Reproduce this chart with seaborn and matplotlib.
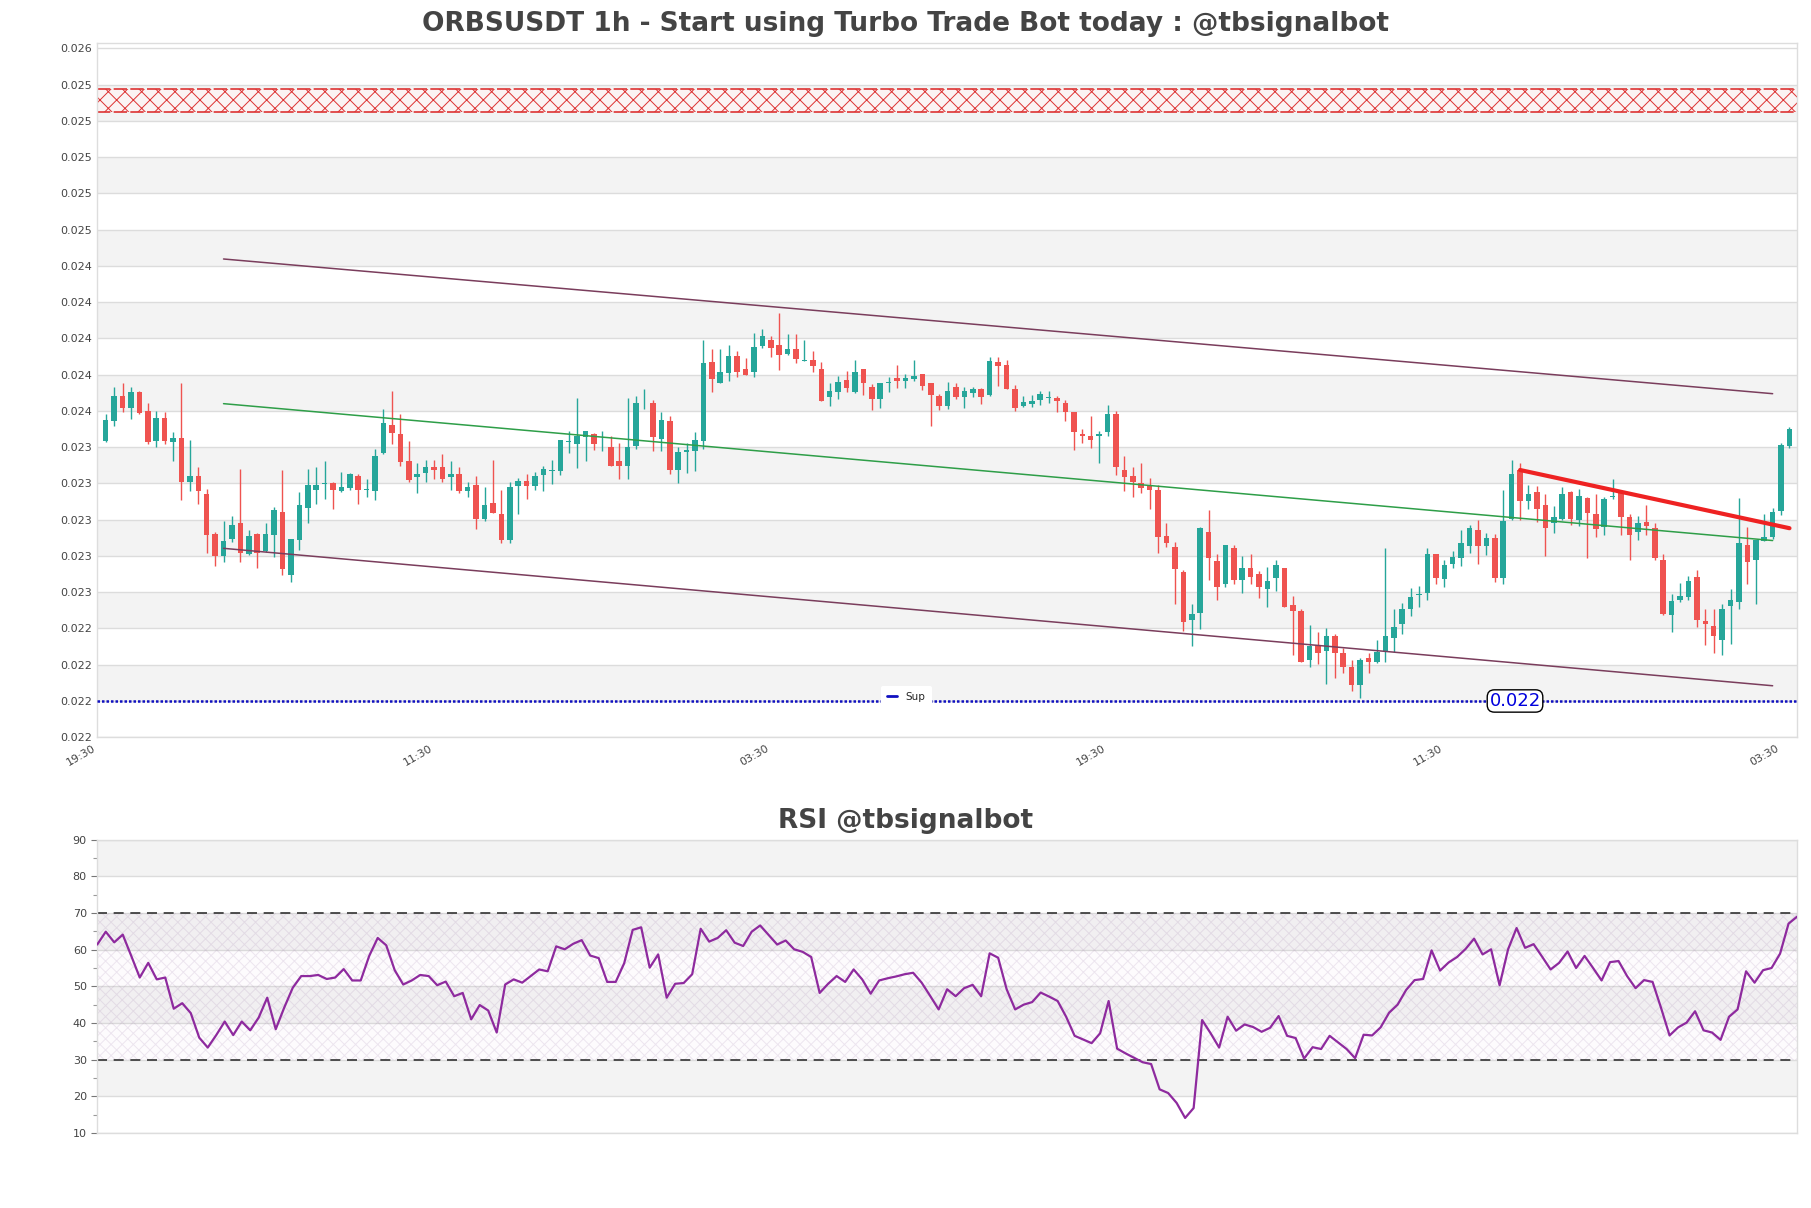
import numpy as np
import matplotlib
matplotlib.use("Agg")
import matplotlib.pyplot as plt
import seaborn as sns
from matplotlib.ticker import FormatStrFormatter, FixedLocator, MultipleLocator
from matplotlib.lines import Line2D

# ---------------- data ----------------
opens = [0.023434, 0.023546, 0.023682, 0.023618, 0.023704, 0.023599, 0.023434, 0.023563, 0.023428, 0.023450,
         0.023210, 0.023241, 0.023142, 0.022921, 0.022797, 0.022896, 0.022982, 0.022809, 0.022921, 0.022830,
         0.022918, 0.023043, 0.022697, 0.022890, 0.023067, 0.023166, 0.023199, 0.023202, 0.023160, 0.023177,
         0.023241, 0.023162, 0.023160, 0.023370, 0.023522, 0.023473, 0.023324, 0.023237, 0.023259, 0.023291,
         0.023291, 0.023237, 0.023254, 0.023160, 0.023191, 0.023004, 0.023094, 0.023033, 0.022890, 0.023188,
         0.023214, 0.023188, 0.023248, 0.023270, 0.023270, 0.023430, 0.023417, 0.023458, 0.023471, 0.023410,
         0.023403, 0.023324, 0.023298, 0.023408, 0.023653, 0.023645, 0.023447, 0.023544, 0.023274, 0.023371,
         0.023381, 0.023434, 0.023871, 0.023755, 0.023811, 0.023902, 0.023831, 0.023816, 0.023957, 0.023991,
         0.023963, 0.023915, 0.023941, 0.023875, 0.023880, 0.023831, 0.023678, 0.023706, 0.023770, 0.023704,
         0.023831, 0.023733, 0.023667, 0.023755, 0.023781, 0.023766, 0.023776, 0.023803, 0.023754, 0.023684,
         0.023629, 0.023732, 0.023678, 0.023700, 0.023721, 0.023690, 0.023870, 0.023852, 0.023721, 0.023629,
         0.023640, 0.023659, 0.023672, 0.023672, 0.023644, 0.023594, 0.023474, 0.023463, 0.023459, 0.023482,
         0.023583, 0.023275, 0.023242, 0.023201, 0.023186, 0.023164, 0.022911, 0.022847, 0.022710, 0.022446,
         0.022485, 0.022930, 0.022771, 0.022646, 0.022845, 0.022666, 0.022732, 0.022699, 0.022616, 0.022681,
         0.022731, 0.022529, 0.022497, 0.022228, 0.022302, 0.022276, 0.022361, 0.022267, 0.022188, 0.022087,
         0.022239, 0.022216, 0.022271, 0.022350, 0.022424, 0.022510, 0.022587, 0.022597, 0.022811, 0.022671,
         0.022755, 0.022790, 0.022857, 0.022943, 0.022857, 0.022897, 0.022680, 0.023006, 0.023275, 0.023102,
         0.023155, 0.023081, 0.022980, 0.023002, 0.023155, 0.022998, 0.023121, 0.023031, 0.022961, 0.023125,
         0.023145, 0.023016, 0.022930, 0.022990, 0.022952, 0.022780, 0.022472, 0.022555, 0.022573, 0.022682,
         0.022439, 0.022411, 0.022335, 0.022524, 0.022546, 0.022859, 0.022776, 0.022882, 0.022902, 0.023049,
         0.023407]

highs = [0.023583, 0.023730, 0.023754, 0.023730, 0.023709, 0.023642, 0.023599, 0.023594, 0.023482, 0.023754,
         0.023439, 0.023289, 0.023168, 0.022931, 0.022993, 0.023019, 0.023280, 0.022943, 0.022925, 0.022982,
         0.023068, 0.023272, 0.022894, 0.023153, 0.023280, 0.023291, 0.023322, 0.023208, 0.023261, 0.023259,
         0.023252, 0.023223, 0.023390, 0.023610, 0.023711, 0.023583, 0.023434, 0.023311, 0.023327, 0.023327,
         0.023360, 0.023324, 0.023289, 0.023210, 0.023241, 0.023180, 0.023329, 0.023164, 0.023210, 0.023228,
         0.023252, 0.023261, 0.023298, 0.023329, 0.023439, 0.023487, 0.023671, 0.023489, 0.023480, 0.023487,
         0.023460, 0.023421, 0.023669, 0.023680, 0.023719, 0.023660, 0.023594, 0.023570, 0.023401, 0.023421,
         0.023484, 0.023991, 0.023941, 0.023941, 0.023963, 0.023930, 0.023890, 0.024031, 0.024051, 0.024013,
         0.024141, 0.024024, 0.024024, 0.023991, 0.023930, 0.023869, 0.023754, 0.023792, 0.023822, 0.023880,
         0.023831, 0.023748, 0.023755, 0.023788, 0.023853, 0.023803, 0.023880, 0.023803, 0.023754, 0.023695,
         0.023761, 0.023752, 0.023730, 0.023730, 0.023724, 0.023900, 0.023895, 0.023880, 0.023745, 0.023684,
         0.023690, 0.023708, 0.023708, 0.023684, 0.023659, 0.023594, 0.023500, 0.023574, 0.023491, 0.023635,
         0.023601, 0.023352, 0.023290, 0.023312, 0.023229, 0.023190, 0.022980, 0.022878, 0.022721, 0.022537,
         0.022961, 0.023053, 0.022810, 0.022863, 0.022863, 0.022799, 0.022810, 0.022718, 0.022740, 0.022780,
         0.022735, 0.022578, 0.022505, 0.022418, 0.022379, 0.022400, 0.022368, 0.022293, 0.022228, 0.022239,
         0.022265, 0.022339, 0.022844, 0.022510, 0.022538, 0.022621, 0.022636, 0.022842, 0.022811, 0.022777,
         0.022827, 0.022943, 0.022971, 0.022998, 0.022928, 0.022919, 0.023164, 0.023330, 0.023312, 0.023192,
         0.023188, 0.023142, 0.023078, 0.023183, 0.023160, 0.023168, 0.023127, 0.023140, 0.023127, 0.023225,
         0.023155, 0.023029, 0.023018, 0.023079, 0.022979, 0.022808, 0.022592, 0.022651, 0.022690, 0.022721,
         0.022509, 0.022509, 0.022537, 0.022620, 0.023118, 0.022961, 0.022887, 0.023029, 0.023062, 0.023422,
         0.023511]

lows = [0.023428, 0.023517, 0.023596, 0.023557, 0.023581, 0.023419, 0.023399, 0.023419, 0.023324, 0.023109,
        0.023158, 0.023089, 0.022817, 0.022747, 0.022769, 0.022876, 0.022769, 0.022806, 0.022736, 0.022822,
        0.022793, 0.022695, 0.022659, 0.022831, 0.022980, 0.023089, 0.023114, 0.023061, 0.023155, 0.023162,
        0.023089, 0.023127, 0.023111, 0.023362, 0.023419, 0.023298, 0.023210, 0.023149, 0.023210, 0.023226,
        0.023210, 0.023166, 0.023149, 0.023127, 0.022951, 0.022991, 0.023039, 0.022870, 0.022870, 0.023030,
        0.023116, 0.023164, 0.023160, 0.023199, 0.023247, 0.023368, 0.023287, 0.023326, 0.023386, 0.023381,
        0.023298, 0.023226, 0.023226, 0.023388, 0.023608, 0.023381, 0.023381, 0.023254, 0.023201, 0.023259,
        0.023270, 0.023388, 0.023706, 0.023755, 0.023766, 0.023788, 0.023800, 0.023788, 0.023948, 0.023899,
        0.023825, 0.023910, 0.023862, 0.023875, 0.023816, 0.023656, 0.023629, 0.023667, 0.023706, 0.023698,
        0.023689, 0.023607, 0.023618, 0.023706, 0.023728, 0.023728, 0.023766, 0.023715, 0.023518, 0.023605,
        0.023608, 0.023665, 0.023618, 0.023678, 0.023640, 0.023681, 0.023740, 0.023721, 0.023598, 0.023622,
        0.023622, 0.023631, 0.023644, 0.023592, 0.023542, 0.023382, 0.023422, 0.023398, 0.023312, 0.023459,
        0.023247, 0.023160, 0.023127, 0.023149, 0.023061, 0.022817, 0.022847, 0.022533, 0.022386, 0.022306,
        0.022397, 0.022666, 0.022555, 0.022629, 0.022644, 0.022596, 0.022644, 0.022568, 0.022518, 0.022607,
        0.022519, 0.022256, 0.022216, 0.022188, 0.022203, 0.022096, 0.022127, 0.022157, 0.022055, 0.022018,
        0.022157, 0.022210, 0.022216, 0.022271, 0.022367, 0.022470, 0.022519, 0.022556, 0.022648, 0.022630,
        0.022731, 0.022746, 0.022818, 0.022755, 0.022805, 0.022658, 0.022648, 0.022998, 0.022998, 0.023061,
        0.022989, 0.022799, 0.022928, 0.022998, 0.022969, 0.022965, 0.022789, 0.022906, 0.022915, 0.023112,
        0.022915, 0.022776, 0.022887, 0.022915, 0.022776, 0.022476, 0.022383, 0.022546, 0.022555, 0.022407,
        0.022311, 0.022263, 0.022251, 0.022315, 0.022509, 0.022647, 0.022533, 0.022882, 0.022891, 0.023025,
        0.023398]

closes = [0.023550, 0.023682, 0.023618, 0.023704, 0.023586, 0.023428, 0.023563, 0.023434, 0.023450, 0.023210,
          0.023241, 0.023160, 0.022918, 0.022797, 0.022885, 0.022971, 0.022819, 0.022910, 0.022819, 0.022921,
          0.023054, 0.022730, 0.022894, 0.023081, 0.023191, 0.023191, 0.023202, 0.023166, 0.023179, 0.023252,
          0.023164, 0.023168, 0.023351, 0.023533, 0.023480, 0.023318, 0.023219, 0.023254, 0.023291, 0.023276,
          0.023226, 0.023254, 0.023158, 0.023180, 0.023004, 0.023081, 0.023039, 0.022890, 0.023180, 0.023214,
          0.023188, 0.023243, 0.023281, 0.023274, 0.023439, 0.023432, 0.023463, 0.023489, 0.023417, 0.023414,
          0.023298, 0.023298, 0.023403, 0.023643, 0.023656, 0.023458, 0.023550, 0.023274, 0.023373, 0.023384,
          0.023439, 0.023866, 0.023777, 0.023816, 0.023902, 0.023816, 0.023800, 0.023952, 0.024013, 0.023948,
          0.023910, 0.023941, 0.023888, 0.023878, 0.023849, 0.023656, 0.023709, 0.023761, 0.023726, 0.023814,
          0.023755, 0.023667, 0.023755, 0.023761, 0.023766, 0.023783, 0.023792, 0.023739, 0.023689, 0.023629,
          0.023711, 0.023678, 0.023709, 0.023721, 0.023678, 0.023874, 0.023850, 0.023721, 0.023616, 0.023648,
          0.023657, 0.023696, 0.023675, 0.023653, 0.023592, 0.023482, 0.023459, 0.023437, 0.023474, 0.023583,
          0.023288, 0.023238, 0.023210, 0.023177, 0.023164, 0.022906, 0.022869, 0.022729, 0.022435, 0.022478,
          0.022956, 0.022790, 0.022629, 0.022860, 0.022666, 0.022732, 0.022684, 0.022629, 0.022660, 0.022749,
          0.022519, 0.022497, 0.022216, 0.022302, 0.022265, 0.022361, 0.022267, 0.022188, 0.022087, 0.022228,
          0.022216, 0.022271, 0.022361, 0.022409, 0.022510, 0.022575, 0.022589, 0.022811, 0.022680, 0.022748,
          0.022794, 0.022869, 0.022956, 0.022857, 0.022901, 0.022680, 0.022995, 0.023253, 0.023102, 0.023142,
          0.023061, 0.022956, 0.023017, 0.023142, 0.023006, 0.023129, 0.023038, 0.022950, 0.023116, 0.023129,
          0.023016, 0.022917, 0.022979, 0.022966, 0.022789, 0.022481, 0.022549, 0.022577, 0.022660, 0.022444,
          0.022424, 0.022358, 0.022509, 0.022559, 0.022869, 0.022767, 0.022887, 0.022906, 0.023040, 0.023413,
          0.023500]

rsi_values = [61.4, 64.9, 62.0, 64.1, 58.3, 52.4, 56.4, 51.9, 52.4, 43.9,
              45.4, 42.7, 36.0, 33.3, 36.7, 40.4, 36.7, 40.4, 38.0, 41.5,
              46.9, 38.3, 44.2, 49.6, 52.8, 52.8, 53.1, 52.0, 52.4, 54.7,
              51.6, 51.6, 58.3, 63.2, 61.2, 54.4, 50.5, 51.6, 53.1, 52.8,
              50.3, 51.3, 47.3, 48.2, 41.0, 44.9, 43.4, 37.4, 50.5, 51.9,
              51.0, 52.8, 54.6, 54.1, 60.9, 60.1, 61.6, 62.6, 58.4, 57.7,
              51.2, 51.2, 56.3, 65.4, 66.1, 55.1, 58.7,
              46.9, 50.7, 50.9, 53.3, 65.7, 62.2, 63.2, 65.3, 61.9, 61.0,
              64.9, 66.6, 64.0, 61.4, 62.5, 60.1, 59.4, 58.0, 48.2, 50.7,
              52.8, 51.2, 54.6, 51.9, 48.0, 51.6, 52.2, 52.7, 53.3, 53.7,
              51.0, 47.4, 43.7, 49.2, 47.3, 49.5, 50.4, 47.3, 59.0, 57.8,
              49.2, 43.7, 45.0, 45.7, 48.3, 47.2, 46.0, 41.7, 36.5, 35.5,
              34.5, 37.2, 46.0, 33.0, 31.7, 30.5, 29.3, 28.8, 21.9, 20.9,
              18.2, 14.1, 16.8, 40.8, 37.2, 33.3, 41.7, 37.9, 39.6,
              38.9, 37.6, 38.7, 41.9, 36.5, 35.9, 30.3, 33.4, 32.9, 36.5,
              34.7, 32.9, 30.4, 36.8, 36.6, 38.8, 42.8, 45.0, 49.0, 51.7,
              52.0, 59.8, 54.3, 56.5, 58.0, 60.2, 63.0, 58.7, 60.1, 50.3,
              60.1, 65.9, 60.5, 61.5, 58.1, 54.6, 56.4, 59.5, 55.0, 58.3,
              55.0, 51.6, 56.6, 56.9, 52.8, 49.5, 51.7, 51.2, 44.1, 36.6,
              38.8, 40.1, 43.2, 38.0, 37.4, 35.4, 41.7, 43.7, 54.1, 51.0,
              54.4, 55.0, 58.9, 67.1, 69.0]

x_tick_positions = [-1, 39, 79, 119, 159, 199]
x_tick_labels = ["19:30", "11:30", "03:30", "19:30", "11:30", "03:30"]

channel_x = [14, 198]
channel_upper = [0.024438, 0.023695]
channel_mid = [0.023640, 0.022885]
channel_lower = [0.022842, 0.022084]
trend_x = [168, 200]
trend_y = [0.023274, 0.022953]
support_level = 0.0220
resist_zone = [0.025248, 0.025375]
price_label_x = 167.4
price_label_text = "0.022"

title_main = "ORBSUSDT 1h - Start using Turbo Trade Bot today : @tbsignalbot"
title_rsi = "RSI @tbsignalbot"

# ---------------- style ----------------
sns.set_theme(style="white")
plt.rcParams['font.family'] = ['DejaVu Sans']
plt.rcParams['hatch.linewidth'] = 0.7

fig = plt.figure(figsize=(18.11, 12.08), dpi=100)
ax = fig.add_axes([0.0537, 0.3897, 0.9386, 0.5745])
ax2 = fig.add_axes([0.0537, 0.0621, 0.9386, 0.2428])

GREEN = '#26a69a'
RED = '#ef5350'
BAND = '#f3f3f3'
GRID = '#dcdcdc'
TXT = '#444444'

# ---------------- main price axes ----------------
o = np.array(opens); h = np.array(highs); l = np.array(lows); c = np.array(closes)
n = len(o)
idx = np.arange(n)
cols = np.where(c >= o, GREEN, RED)

yticks = np.round(0.0218 + 0.0002 * np.arange(20), 6)
for i in range(1, len(yticks) - 1, 2):
    ax.axhspan(yticks[i], yticks[i + 1], color=BAND, zorder=0, lw=0)
for yv in yticks:
    ax.axhline(yv, color=GRID, lw=1.0, zorder=0.5)

# resistance zone
ax.axhspan(resist_zone[0], resist_zone[1], facecolor=(1, 0.96, 0.96, 0.7),
           edgecolor='#dd3333', hatch='xx', lw=0, zorder=1)
for zv in resist_zone:
    ax.axhline(zv, color='#dd3333', lw=1.2, ls=(0, (8, 2)), zorder=1.2)

# candles
ax.vlines(idx, l, h, colors=cols, lw=1.0, zorder=3)
body_lo = np.minimum(o, c)
body_h = np.maximum(np.abs(c - o), 3.5e-6)
ax.bar(idx, body_h, bottom=body_lo, width=0.66, color=cols, linewidth=0, zorder=4)

# channel / trend lines
sns.lineplot(x=channel_x, y=channel_upper, ax=ax, color='#7a3d5c', lw=1.1, zorder=5)
sns.lineplot(x=channel_x, y=channel_lower, ax=ax, color='#7a3d5c', lw=1.1, zorder=5)
sns.lineplot(x=channel_x, y=channel_mid, ax=ax, color='#2e9e48', lw=1.1, zorder=5)
sns.lineplot(x=trend_x, y=trend_y, ax=ax, color='#ee2222', lw=3.0, zorder=6)

# support
ax.axhline(support_level, color='#1010c0', lw=1.8, ls=(0, (1, 0.8)), zorder=5)
handle = Line2D([], [], color='#1010c0', lw=2)
leg = ax.legend([handle], ['Sup'], loc='center', bbox_to_anchor=(0.476, 0.058),
                fontsize=7.5, frameon=True, facecolor='white', edgecolor='none',
                framealpha=1.0, handlelength=1.0, borderpad=0.6)
leg.set_zorder(7)
ax.text(price_label_x, support_level, price_label_text, color='#0000dd', fontsize=13,
        ha='center', va='center', zorder=8,
        bbox=dict(boxstyle='round,pad=0.12,rounding_size=0.4', fc='white', ec='black', lw=1))

ax.set_xlim(-0.95, 200.9)
ax.set_ylim(0.0218, 0.025628)
ax.yaxis.set_major_locator(FixedLocator(yticks))
ax.yaxis.set_major_formatter(FormatStrFormatter('%.3f'))
ax.set_xticks(x_tick_positions)
ax.set_xticklabels(x_tick_labels, rotation=30, ha='right')
ax.tick_params(axis='both', length=0, labelsize=8, labelcolor=TXT, pad=4)
ax.set_xlabel(''); ax.set_ylabel('')
ax.grid(False)
for s in ax.spines.values():
    s.set_color('#dddddd'); s.set_linewidth(1.0)

# ---------------- RSI axes ----------------
rticks = np.arange(10, 91, 10)
for i in range(1, len(rticks) - 1, 2):
    ax2.axhspan(rticks[i], rticks[i + 1], color=BAND, zorder=0, lw=0)
for yv in rticks:
    ax2.axhline(yv, color=GRID, lw=1.0, zorder=0.5)
ax2.fill_between([0, len(rsi_values) - 1], 30, 70, facecolor=(0.6, 0.3, 0.65, 0.02),
                 edgecolor=(0.6, 0.45, 0.65, 0.16), hatch='xxx', lw=0, zorder=1)
ax2.axhline(70, color='#333333', lw=1.2, ls=(0, (6, 4)), zorder=2)
ax2.axhline(30, color='#333333', lw=1.2, ls=(0, (6, 4)), zorder=2)
sns.lineplot(x=np.arange(len(rsi_values)), y=rsi_values, ax=ax2, color='#8e2a9e', lw=1.6, zorder=4)
ax2.set_xlim(0, len(rsi_values) - 1)
ax2.set_ylim(10, 90)
ax2.set_yticks(rticks)
ax2.yaxis.set_minor_locator(MultipleLocator(5))
ax2.set_xticks([])
ax2.tick_params(axis='y', which='major', length=4, width=0.8, color='#777777',
                labelsize=8, labelcolor=TXT, left=True)
ax2.tick_params(axis='y', which='minor', length=3, width=0.8, color='#999999', left=True)
ax2.set_xlabel(''); ax2.set_ylabel('')
ax2.grid(False)
for s in ax2.spines.values():
    s.set_color('#dddddd'); s.set_linewidth(1.0)

# ---------------- titles ----------------
fig.text(0.5, 0.9800, title_main, ha='center', va='center', fontsize=19,
         fontweight='bold', color=TXT)
fig.text(0.5, 0.3200, title_rsi, ha='center', va='center', fontsize=19,
         fontweight='bold', color=TXT)

fig.savefig('out.png', dpi=100)
